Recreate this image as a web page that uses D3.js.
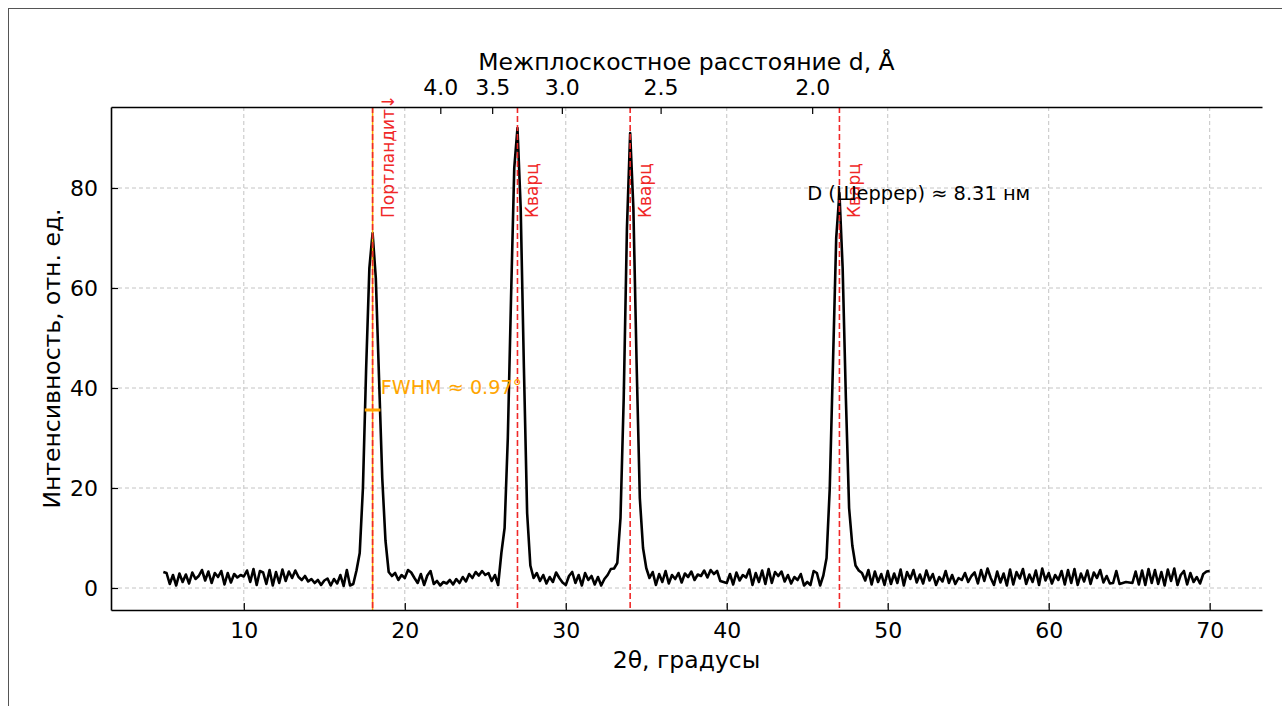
<!DOCTYPE html>
<html><head><meta charset="utf-8">
<script src="https://cdn.jsdelivr.net/npm/d3@7"></script>
<style>body{margin:0;background:#fff;} text{font-family:"DejaVu Sans",sans-serif;}</style>
</head><body><svg id="chart" width="1282" height="706"></svg>
<script>
// ---- data ----
const angleStart = 5, angleStep = 0.2;   // 2θ grid, degrees
const intensity = [
  3.2, 3.0, 0.8, 2.6, 0.5, 2.9, 1.2, 2.7, 0.9, 3.1,
  1.8, 2.4, 3.6, 1.5, 3.3, 1.0, 3.0, 2.2, 3.4, 0.7,
  3.0, 1.1, 2.8, 2.1, 2.6, 2.3, 3.5, 1.2, 3.8, 0.6,
  3.4, 3.1, 0.8, 3.6, 0.5, 3.2, 1.0, 3.7, 1.4, 3.3,
  2.0, 3.5, 2.2, 1.6, 2.4, 1.3, 1.8, 1.0, 1.6, 0.6,
  1.5, 1.9, 0.5, 1.8, 0.9, 2.6, 0.4, 3.6, 0.5, 0.8,
  3.5, 7, 20, 44, 64, 71, 62, 42, 22, 9.5, 3.2,
  2.4, 3.0, 1.6, 2.6, 2.0, 3.6, 3.1, 2.0, 1.0, 2.8,
  0.6, 2.5, 3.4, 0.8, 1.4, 0.5, 1.2, 0.9, 1.6, 0.7,
  1.8, 1.0, 2.2, 1.3, 2.8, 2.0, 3.2, 2.5, 3.4, 2.6,
  3.0, 1.4, 2.6, 0.6,
  7, 12, 30, 58, 84, 92, 76, 44, 15, 4.5,
  2.0, 3.0, 1.4, 2.6, 0.9, 2.2, 1.2, 3.1, 2.0, 1.1,
  0.6, 2.4, 3.2, 1.0, 2.6, 0.5, 3.0, 1.6, 2.4, 0.7,
  2.2, 0.5, 1.8, 2.6, 3.8, 3.9,
  5, 14, 38, 72, 91, 76, 45, 18, 8, 4,
  2.0, 3.2, 0.6, 2.8, 1.2, 3.4, 0.9, 2.6, 1.8, 3.0,
  1.1, 2.9, 2.2, 3.3, 1.6, 2.7, 2.4, 3.5, 2.1, 3.6,
  2.8, 3.4, 1.4, 1.2, 1.0, 2.8, 0.7, 3.1, 1.5, 2.6,
  2.1, 3.7, 0.6, 3.0, 1.2, 3.5, 0.8, 3.8, 1.0, 3.2,
  2.4, 3.3, 1.3, 2.6, 0.9, 2.2, 1.6, 2.8, 0.5, 1.2,
  0.6, 3.4, 3.0, 0.5,
  2.5, 6, 20, 45, 70, 79, 64, 38, 16, 8.5, 4.5, 3.5,
  3.0, 1.5, 3.6, 0.7, 3.3, 1.2, 2.8, 0.6, 3.4, 0.8,
  2.9, 1.0, 3.7, 0.5, 3.2, 1.8, 3.6, 1.1, 2.7, 0.9,
  3.5, 1.5, 2.8, 0.6, 2.2, 1.3, 3.4, 1.0, 2.6, 0.8,
  2.0, 1.6, 3.0, 1.2, 2.4, 3.1, 0.9, 3.6, 1.4, 3.9,
  2.0, 0.6, 3.3, 1.1, 2.9, 0.5, 3.7, 0.7, 3.2, 1.9,
  3.8, 0.8, 2.7, 1.2, 3.5, 0.6, 3.9, 1.5, 3.0, 0.9,
  2.6, 1.6, 3.4, 0.7, 3.6, 1.0, 3.8, 0.6, 2.9, 1.3,
  3.5, 0.8, 3.1, 2.0, 3.6, 1.1, 2.4, 0.9, 1.0, 3.4,
  0.8, 1.0, 1.2, 1.1, 1.0, 3.3, 0.7, 3.5, 0.6, 3.8,
  1.0, 3.6, 0.8, 3.2, 0.5, 3.7, 1.4, 3.9, 0.6, 2.6,
  3.4, 0.7, 3.0, 1.2, 2.2, 0.9, 2.8, 3.3, 3.4
];
const peakPositions = [18, 27, 34, 47];
const peakLabels = ["Портландит↓", "Кварц", "Кварц", "Кварц"];
const labelHeight = 74;
const xTicks = [10, 20, 30, 40, 50, 60, 70];
const yTicks = [0, 20, 40, 60, 80];
const dTicks = [4.0, 3.5, 3.0, 2.5, 2.0];
const dTickLabels = ["4.0", "3.5", "3.0", "2.5", "2.0"];
const wavelength = 1.5406; // Cu Kα, Å
const fwhmPeak = 18, fwhmWidth = 0.97, fwhmLevel = 35.6;
const fwhmText = "FWHM ≈ 0.97°";
const fwhmTextPos = [18.5, 40.2];
const scherrerText = "D (Шеррер) ≈ 8.31 нм";
const scherrerPos = [45, 79];
const xLabel = "2θ, градусы";
const yLabel = "Интенсивность, отн. ед.";
const topLabel = "Межплоскостное расстояние d, Å";
const xDomain = [1.75, 73.25];
const yDomain = [-4.4, 96.2];

// ---- layout ----
const L = 111, R = 1262, T = 107, B = 610;
const svg = d3.select("#chart");
const x = d3.scaleLinear().domain(xDomain).range([L, R]);
const y = d3.scaleLinear().domain(yDomain).range([B, T]);
const data = intensity.map((v, i) => ({t: angleStart + i * angleStep, v}));

// outer frame
svg.append("rect").attr("x", 8.5).attr("y", 8.5).attr("width", 1300).attr("height", 720)
  .attr("fill", "none").attr("stroke", "#555").attr("stroke-width", 1);

// grid
const grid = svg.append("g").attr("stroke", "#c4c4c4").attr("stroke-width", 1).attr("stroke-dasharray", "4,3");
grid.selectAll("line.gx").data(xTicks).join("line").attr("x1", d => x(d)).attr("x2", d => x(d)).attr("y1", T).attr("y2", B);
grid.selectAll("line.gy").data(yTicks).join("line").attr("class","gy").attr("x1", L).attr("x2", R).attr("y1", d => y(d)).attr("y2", d => y(d));

// data line
svg.append("path").datum(data)
  .attr("fill", "none").attr("stroke", "#000").attr("stroke-width", 2.6).attr("stroke-linejoin", "round")
  .attr("d", d3.line().x(d => x(d.t)).y(d => y(d.v)));

// orange marker line at FWHM peak
svg.append("line").attr("x1", x(fwhmPeak)).attr("x2", x(fwhmPeak)).attr("y1", T).attr("y2", B)
  .attr("stroke", "#ffa500").attr("stroke-width", 1.5);
// red dashed reference lines
svg.append("g").selectAll("line").data(peakPositions).join("line")
  .attr("x1", d => x(d)).attr("x2", d => x(d)).attr("y1", T).attr("y2", B)
  .attr("stroke", "#f02828").attr("stroke-width", 1.6).attr("stroke-dasharray", "6,3");

// phase labels
const lfs = 17;
svg.append("g").selectAll("text").data(peakPositions).join("text")
  .attr("transform", d => `translate(${x(d + 0.5) + 0.76 * lfs},${y(labelHeight)}) rotate(-90)`)
  .attr("fill", "#f02828").attr("font-size", lfs).text((d, i) => peakLabels[i]);

// FWHM bar
svg.append("line").attr("x1", x(fwhmPeak - fwhmWidth / 2)).attr("x2", x(fwhmPeak + fwhmWidth / 2))
  .attr("y1", y(fwhmLevel)).attr("y2", y(fwhmLevel)).attr("stroke", "#ffa500").attr("stroke-width", 3);
svg.append("text").attr("x", x(fwhmTextPos[0])).attr("y", y(fwhmTextPos[1])).attr("dy", "0.36em")
  .attr("fill", "#ffa500").attr("font-size", 19.2).text(fwhmText);
svg.append("text").attr("x", x(scherrerPos[0])).attr("y", y(scherrerPos[1])).attr("dy", "0.36em")
  .attr("fill", "#000").attr("font-size", 19.4).text(scherrerText);

// axes (ticks inward)
const tfs = 22, tl = 7;
const bx = svg.append("g").attr("transform", `translate(0,${B})`)
  .call(d3.axisBottom(x).tickValues(xTicks).tickFormat(d3.format("d")).tickSizeInner(-tl).tickSizeOuter(0).tickPadding(tl + 5));
const ly = svg.append("g").attr("transform", `translate(${L},0)`)
  .call(d3.axisLeft(y).tickValues(yTicks).tickFormat(d3.format("d")).tickSizeInner(-tl).tickSizeOuter(0).tickPadding(tl + 6));
const dToTheta = d => 2 * Math.asin(wavelength / (2 * d)) * 180 / Math.PI;
const tx = svg.append("g").attr("transform", `translate(0,${T})`)
  .call(d3.axisTop(x).tickValues(dTicks.map(dToTheta)).tickFormat((d, i) => dTickLabels[i]).tickSizeInner(-tl).tickSizeOuter(0).tickPadding(tl + 5));
[bx, ly, tx].forEach(g => {
  g.selectAll("text").attr("font-size", tfs).attr("fill", "#000").attr("font-family", "DejaVu Sans");
  g.selectAll(".tick line").attr("stroke", "#000").attr("stroke-width", 1.2);
  g.select(".domain").attr("stroke", "#000").attr("stroke-width", 1.6);
});

// axis labels
svg.append("text").attr("x", (L + R) / 2).attr("y", 668).attr("text-anchor", "middle").attr("font-size", 23.5).text(xLabel);
svg.append("text").attr("x", (L + R) / 2).attr("y", 70).attr("text-anchor", "middle").attr("font-size", 23.5).text(topLabel);
svg.append("text").attr("transform", `translate(60,${(T + B) / 2}) rotate(-90)`).attr("text-anchor", "middle").attr("font-size", 23.5).text(yLabel);
</script></body></html>
